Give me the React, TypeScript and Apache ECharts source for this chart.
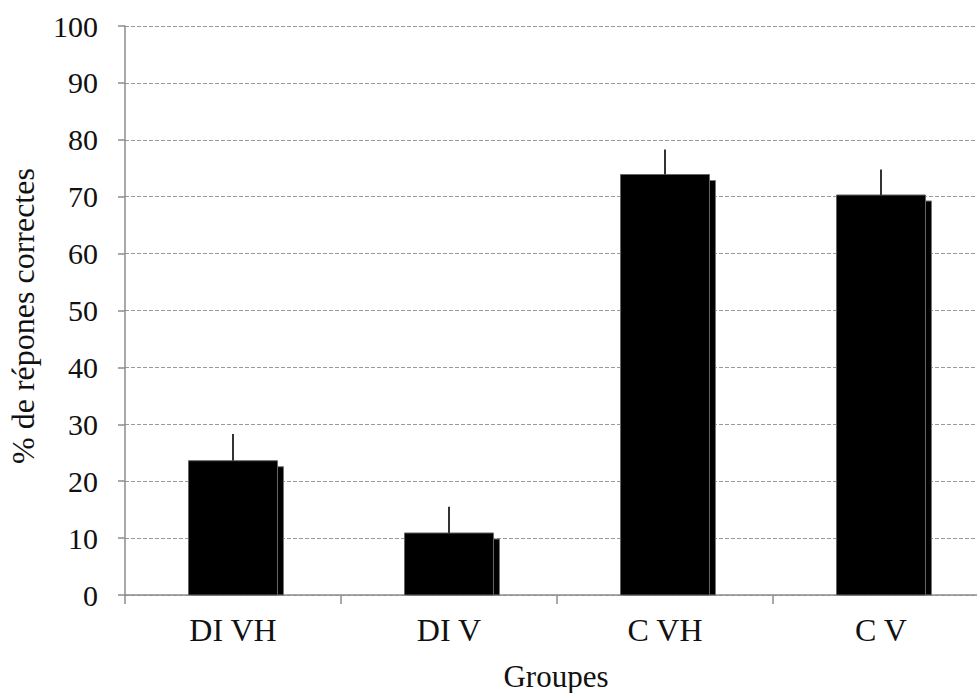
import React, { useEffect, useRef } from "react";
import * as echarts from "echarts";

const categories = ["DI VH", "DI V", "C VH", "C V"];
const means = [23.6, 10.9, 73.9, 70.3];
const errors = [4.7, 4.6, 4.4, 4.5];
const yTicks = { min: 0, max: 100, interval: 10 };
const xTitle = "Groupes";
const yTitle = "% de répones correctes";

const FONT = '"Liberation Serif", "Times New Roman", serif';

export default function App() {
  const ref = useRef<HTMLDivElement>(null);
  useEffect(() => {
    if (!ref.current) return;
    const chart = echarts.init(ref.current, null, { renderer: "svg" });
    const data = categories.map((c, i) => [i, means[i], means[i] + errors[i]]);
    chart.setOption({
      animation: false,
      backgroundColor: "#ffffff",
      grid: { left: 125, top: 26, width: 864, height: 569, containLabel: false, outerBoundsMode: "none" },
      graphic: [
        {
          type: "text",
          x: 23,
          y: 316,
          rotation: Math.PI / 2,
          style: {
            text: yTitle,
            font: `32px ${FONT}`,
            fill: "#111",
            align: "center",
            verticalAlign: "middle",
          },
        },
        {
          type: "text",
          x: 556,
          y: 676,
          style: {
            text: xTitle,
            font: `31px ${FONT}`,
            fill: "#111",
            align: "center",
            verticalAlign: "middle",
          },
        },
      ],
      xAxis: {
        type: "category",
        data: categories,
        boundaryGap: true,
        axisLine: { lineStyle: { color: "#8c8c8c", width: 1.5 } },
        axisTick: { show: true, length: 9, alignWithLabel: false, lineStyle: { color: "#8c8c8c", width: 1.5 } },
        axisLabel: { fontFamily: FONT, fontSize: 32, color: "#111", margin: 19 },
      },
      yAxis: {
        type: "value",
        min: yTicks.min,
        max: yTicks.max,
        interval: yTicks.interval,
        axisLine: { show: true, lineStyle: { color: "#8c8c8c", width: 1.5 } },
        axisTick: { show: true, length: 7, lineStyle: { color: "#8c8c8c", width: 1.5 } },
        axisLabel: { fontFamily: FONT, fontSize: 30, color: "#111", margin: 27 },
        splitLine: { show: true, lineStyle: { color: "#9a9a9a", type: [4, 2], width: 1 } },
      },
      series: [
        {
          type: "custom",
          data,
          encode: { x: 0, y: 1 },
          renderItem: (params: any, api: any) => {
            const idx = api.value(0);
            const v = api.value(1);
            const e = api.value(2);
            const top = api.coord([idx, v]);
            const base = api.coord([idx, 0]);
            const errPt = api.coord([idx, e]);
            const band = api.size([1, 0])[0];
            const w = band * 0.412;
            const x0 = top[0] - w / 2;
            const off = 6;
            return {
              type: "group",
              children: [
                {
                  type: "rect",
                  shape: { x: x0 + off, y: top[1] + off, width: w, height: base[1] - top[1] - off },
                  style: { fill: "#000", stroke: "#777", lineWidth: 1 },
                },
                {
                  type: "rect",
                  shape: { x: x0, y: top[1], width: w, height: base[1] - top[1] },
                  style: { fill: "#000", stroke: "#666", lineWidth: 1 },
                },
                {
                  type: "line",
                  shape: { x1: top[0], y1: top[1], x2: top[0], y2: errPt[1] },
                  style: { stroke: "#333", lineWidth: 2 },
                },
              ],
            };
          },
        },
      ],
    });
    return () => chart.dispose();
  }, []);
  return <div ref={ref} style={{ position: "absolute", left: 0, top: 0, width: 977, height: 693 }} />;
}
